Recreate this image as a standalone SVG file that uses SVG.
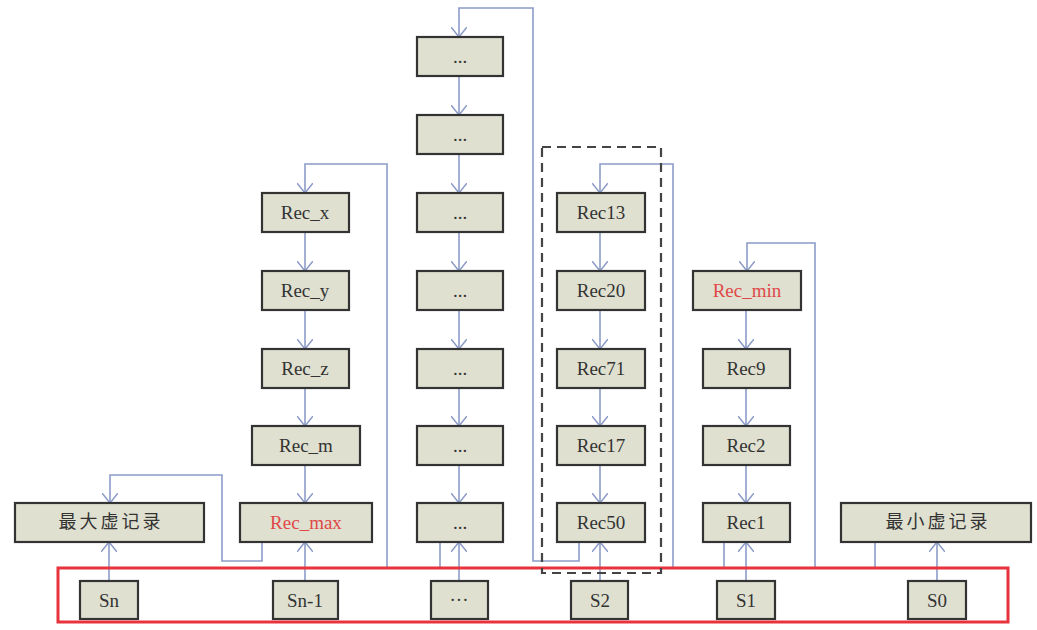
<svg xmlns="http://www.w3.org/2000/svg" width="1037" height="630" viewBox="0 0 1037 630">
<defs>
<marker id="arr" viewBox="0 0 10 16" refX="10" refY="8" markerWidth="10" markerHeight="16" markerUnits="userSpaceOnUse" orient="auto">
<path d="M0,0 L10,8 L0,16" fill="none" stroke="#8c9cc8" stroke-width="1.5"/>
</marker>
<style>
.box{fill:#dfe0d0;stroke:#333;stroke-width:2.2}
.t{font-family:"Liberation Serif","Noto Sans CJK SC",serif;font-size:19px;fill:#333;text-anchor:middle;dominant-baseline:central}
.red{fill:#e04848}
.cn{font-size:18px;letter-spacing:3px}
.ln{fill:none;stroke:#8c9cc8;stroke-width:1.6}
.a{marker-end:url(#arr)}
</style>
</defs>
<rect width="1037" height="630" fill="#ffffff"/>
<g id="connectors">
<!-- col2 chain -->
<path class="ln a" d="M305,232 V271"/>
<path class="ln a" d="M305,310 V349"/>
<path class="ln a" d="M305,388 V426"/>
<path class="ln a" d="M305,465 V503"/>
<!-- col3 chain -->
<path class="ln a" d="M459,76 V115"/>
<path class="ln a" d="M459,154 V193"/>
<path class="ln a" d="M459,232 V271"/>
<path class="ln a" d="M459,310 V349"/>
<path class="ln a" d="M459,388 V426"/>
<path class="ln a" d="M459,465 V503"/>
<!-- col4 chain -->
<path class="ln a" d="M600,232 V271"/>
<path class="ln a" d="M600,310 V349"/>
<path class="ln a" d="M600,388 V426"/>
<path class="ln a" d="M600,465 V503"/>
<!-- col5 chain -->
<path class="ln a" d="M746,310 V349"/>
<path class="ln a" d="M746,388 V426"/>
<path class="ln a" d="M746,465 V503"/>
<!-- slots up -->
<path class="ln a" d="M109,581 V542"/>
<path class="ln a" d="M305,581 V542"/>
<path class="ln a" d="M459,581 V542"/>
<path class="ln a" d="M600,581 V542"/>
<path class="ln a" d="M746,581 V542"/>
<path class="ln a" d="M937,581 V542"/>
<!-- loops -->
<path class="ln a" d="M262,542 V561 H222 V475 H110 V503"/>
<path class="ln a" d="M387,568 V164 H305 V193"/>
<path class="ln" d="M440,542 V568"/>
<path class="ln a" d="M579,542 V561 H533 V8 H459 V37"/>
<path class="ln a" d="M673,568 V164 H600 V193"/>
<path class="ln" d="M724,542 V568"/>
<path class="ln a" d="M815,568 V243 H747 V271"/>
<path class="ln" d="M875,542 V568"/>
</g>
<g id="max-virtual"><rect class="box" x="15" y="503" width="189" height="39"/><text class="t cn" x="111" y="522">最大虚记录</text></g>
<g id="rec-max"><rect class="box" x="240" y="503" width="132" height="39"/><text class="t red" x="306" y="522">Rec_max</text></g>
<g id="rec-x"><rect class="box" x="262" y="193" width="87" height="39"/><text class="t" x="305" y="212">Rec_x</text></g>
<g id="rec-y"><rect class="box" x="262" y="271" width="87" height="39"/><text class="t" x="305" y="290">Rec_y</text></g>
<g id="rec-z"><rect class="box" x="262" y="349" width="87" height="39"/><text class="t" x="305" y="368">Rec_z</text></g>
<g id="rec-m"><rect class="box" x="252" y="426" width="108" height="39"/><text class="t" x="306" y="445">Rec_m</text></g>
<g id="c3-1"><rect class="box" x="417" y="37" width="86" height="39"/><text class="t" x="460" y="56">...</text></g>
<g id="c3-2"><rect class="box" x="417" y="115" width="86" height="39"/><text class="t" x="460" y="134">...</text></g>
<g id="c3-3"><rect class="box" x="417" y="193" width="86" height="39"/><text class="t" x="460" y="212">...</text></g>
<g id="c3-4"><rect class="box" x="417" y="271" width="86" height="39"/><text class="t" x="460" y="290">...</text></g>
<g id="c3-5"><rect class="box" x="417" y="349" width="86" height="39"/><text class="t" x="460" y="368">...</text></g>
<g id="c3-6"><rect class="box" x="417" y="426" width="86" height="39"/><text class="t" x="460" y="445">...</text></g>
<g id="c3-7"><rect class="box" x="417" y="503" width="86" height="39"/><text class="t" x="460" y="522">...</text></g>
<g id="rec13"><rect class="box" x="557" y="193" width="88" height="39"/><text class="t" x="601" y="212">Rec13</text></g>
<g id="rec20"><rect class="box" x="557" y="271" width="88" height="39"/><text class="t" x="601" y="290">Rec20</text></g>
<g id="rec71"><rect class="box" x="557" y="349" width="88" height="39"/><text class="t" x="601" y="368">Rec71</text></g>
<g id="rec17"><rect class="box" x="557" y="426" width="88" height="39"/><text class="t" x="601" y="445">Rec17</text></g>
<g id="rec50"><rect class="box" x="557" y="503" width="88" height="39"/><text class="t" x="601" y="522">Rec50</text></g>
<g id="rec-min"><rect class="box" x="693" y="271" width="108" height="39"/><text class="t red" x="747" y="290">Rec_min</text></g>
<g id="rec9"><rect class="box" x="703" y="349" width="87" height="39"/><text class="t" x="746" y="368">Rec9</text></g>
<g id="rec2"><rect class="box" x="703" y="426" width="87" height="39"/><text class="t" x="746" y="445">Rec2</text></g>
<g id="rec1"><rect class="box" x="703" y="503" width="87" height="39"/><text class="t" x="746" y="522">Rec1</text></g>
<g id="min-virtual"><rect class="box" x="841" y="503" width="190" height="39"/><text class="t cn" x="938" y="522">最小虚记录</text></g>
<g id="slot-sn"><rect class="box" x="80" y="581" width="58" height="38"/><text class="t" x="109" y="600">Sn</text></g>
<g id="slot-sn1"><rect class="box" x="273" y="581" width="65" height="38"/><text class="t" x="305" y="600">Sn-1</text></g>
<g id="slot-dots"><rect class="box" x="431" y="581" width="57" height="38"/><text class="t" x="459" y="599">···</text></g>
<g id="slot-s2"><rect class="box" x="571" y="581" width="57" height="38"/><text class="t" x="600" y="600">S2</text></g>
<g id="slot-s1"><rect class="box" x="717" y="581" width="58" height="38"/><text class="t" x="746" y="600">S1</text></g>
<g id="slot-s0"><rect class="box" x="908" y="581" width="58" height="38"/><text class="t" x="937" y="600">S0</text></g>
<g id="slot-array"><rect x="58" y="568" width="950" height="54" fill="none" stroke="#e8323c" stroke-width="3"/></g>
<g id="s2-group"><rect x="542" y="147" width="119" height="426" fill="none" stroke="#444" stroke-width="2.2" stroke-dasharray="9,6"/></g>
</svg>
